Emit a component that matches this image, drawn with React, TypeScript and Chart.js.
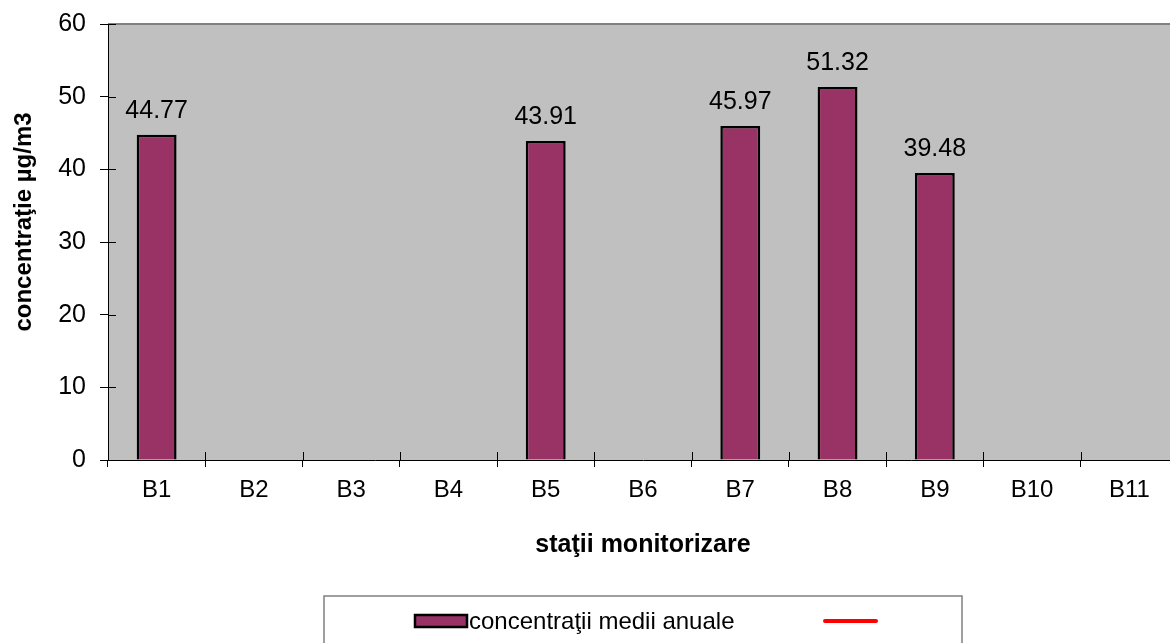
import React, { useEffect, useRef } from 'react';
import { Chart, registerables } from 'chart.js';

Chart.register(...registerables);

const categories = ['B1', 'B2', 'B3', 'B4', 'B5', 'B6', 'B7', 'B8', 'B9', 'B10', 'B11'];
const annualMeans: (number | null)[] = [44.77, null, null, null, 43.91, null, 45.97, 51.32, 39.48, null, null];
const limitValues: (number | null)[] = [null, null, null, null, null, null, null, null, null, null, null];
const seriesLabels = ['concentraţii medii anuale', ''];
const yTitle = 'concentraţie µg/m3';
const xTitle = 'staţii monitorizare';
const yMin = 0;
const yMax = 60;
const yStep = 10;

const FONT = "'Liberation Sans', Arial, sans-serif";
const BAR_COLOR = '#993366';
const LINE_COLOR = '#FF0000';

const plotBg = {
  id: 'plotBg',
  beforeDraw(chart: any) {
    const { ctx, chartArea } = chart;
    ctx.save();
    ctx.fillStyle = '#C0C0C0';
    ctx.fillRect(chartArea.left, chartArea.top, chartArea.right - chartArea.left, chartArea.bottom - chartArea.top);
    ctx.strokeStyle = '#808080';
    ctx.lineWidth = 2;
    ctx.beginPath();
    ctx.moveTo(chartArea.left, chartArea.top);
    ctx.lineTo(chartArea.right, chartArea.top);
    ctx.stroke();
    ctx.restore();
  },
};

const innerTicks = {
  id: 'innerTicks',
  afterDraw(chart: any) {
    const { ctx } = chart;
    const xs = chart.scales.x;
    const ys = chart.scales.y;
    ctx.save();
    ctx.strokeStyle = '#000';
    ctx.lineWidth = 1;
    const n = xs.ticks.length;
    const w = (xs.right - xs.left) / n;
    for (let i = 0; i <= n; i++) {
      const x = Math.round(xs.getPixelForValue(i) - w / 2) + 0.5;
      ctx.beginPath();
      ctx.moveTo(x, xs.top - 8);
      ctx.lineTo(x, xs.top);
      ctx.stroke();
    }
    ys.ticks.forEach((t: any) => {
      const y = Math.round(ys.getPixelForValue(t.value)) + 0.5;
      ctx.beginPath();
      ctx.moveTo(ys.right, y);
      ctx.lineTo(ys.right + 8, y);
      ctx.stroke();
    });
    // y axis title
    ctx.fillStyle = '#000';
    ctx.font = `bold 24px ${FONT}`;
    ctx.textAlign = 'center';
    ctx.textBaseline = 'middle';
    ctx.translate(24, (ys.top + ys.bottom) / 2 - 20);
    ctx.rotate(-Math.PI / 2);
    ctx.fillText(yTitle, 0, 0);
    ctx.restore();
  },
};

const valueLabels = {
  id: 'valueLabels',
  afterDatasetsDraw(chart: any) {
    const { ctx } = chart;
    const meta = chart.getDatasetMeta(0);
    ctx.save();
    ctx.fillStyle = '#000';
    ctx.font = `25px ${FONT}`;
    ctx.textAlign = 'center';
    ctx.textBaseline = 'alphabetic';
    meta.data.forEach((bar: any, i: number) => {
      const v = annualMeans[i];
      if (v === null || v === undefined) return;
      ctx.fillText(v.toFixed(2), bar.x, bar.y - 17);
    });
    ctx.restore();
  },
};

const boxedLegend = {
  id: 'boxedLegend',
  afterDraw(chart: any) {
    const { ctx } = chart;
    const ds = chart.data.datasets;
    ctx.save();
    ctx.strokeStyle = '#808080';
    ctx.lineWidth = 1.5;
    ctx.strokeRect(324, 596, 638, 80);
    // bar item
    ctx.fillStyle = ds[0].backgroundColor;
    ctx.fillRect(415, 615, 52, 12);
    ctx.strokeStyle = '#000';
    ctx.lineWidth = 2.5;
    ctx.strokeRect(415, 615, 52, 12);
    ctx.fillStyle = '#000';
    ctx.font = `24px ${FONT}`;
    ctx.textAlign = 'left';
    ctx.textBaseline = 'alphabetic';
    ctx.fillText(ds[0].label, 469, 629);
    // line item
    ctx.strokeStyle = ds[1].borderColor;
    ctx.lineWidth = 4;
    ctx.lineCap = 'round';
    ctx.beginPath();
    ctx.moveTo(825, 621);
    ctx.lineTo(876, 621);
    ctx.stroke();
    if (ds[1].label) ctx.fillText(ds[1].label, 885, 629);
    ctx.restore();
  },
};

export default function App() {
  const ref = useRef<HTMLCanvasElement | null>(null);
  useEffect(() => {
    if (!ref.current) return;
    const chart = new Chart(ref.current, {
      type: 'bar',
      data: {
        labels: categories,
        datasets: [
          {
            type: 'bar',
            label: seriesLabels[0],
            data: annualMeans,
            backgroundColor: BAR_COLOR,
            borderColor: '#000',
            borderWidth: 2.5,
            categoryPercentage: 1,
            barPercentage: 0.41,
          } as any,
          {
            type: 'line',
            label: seriesLabels[1],
            data: limitValues,
            borderColor: LINE_COLOR,
            backgroundColor: LINE_COLOR,
            borderWidth: 3,
            pointRadius: 0,
          } as any,
        ],
      },
      options: {
        responsive: false,
        animation: false,
        events: [],
        layout: { padding: { top: 24, right: 2, left: 0, bottom: 0 } },
        plugins: {
          legend: { display: false },
          tooltip: { enabled: false },
        },
        scales: {
          x: {
            type: 'category',
            offset: true,
            grid: { offset: true, drawOnChartArea: false, drawTicks: true, tickLength: 7, color: '#000' },
            border: { display: true, color: '#000', width: 1 },
            ticks: { color: '#000', font: { family: FONT, size: 24 }, padding: 9, maxRotation: 0, autoSkip: false },
            title: {
              display: true,
              text: xTitle,
              color: '#000',
              font: { family: FONT, size: 25, weight: 'bold' },
              padding: { top: 0, bottom: 83 },
            },
            afterFit: (s: any) => {
              s.height = 183;
              s.paddingLeft = 0;
              s.paddingRight = 0;
            },
          },
          y: {
            min: yMin,
            max: yMax,
            grid: { drawOnChartArea: false, drawTicks: true, tickLength: 8, color: '#000' },
            border: { display: true, color: '#000', width: 1 },
            ticks: { stepSize: yStep, color: '#000', font: { family: FONT, size: 25 }, padding: 14 },
            title: { display: false, text: yTitle },
            afterFit: (s: any) => {
              s.width = 108;
              s.paddingTop = 0;
              s.paddingBottom = 0;
            },
          },
        },
      },
      plugins: [plotBg, innerTicks, valueLabels, boxedLegend],
    });
    return () => chart.destroy();
  }, []);
  return (
    <div style={{ position: 'absolute', left: 0, top: 0, width: 1170, height: 643, overflow: 'hidden', background: '#fff' }}>
      <canvas ref={ref} width={1180} height={643} style={{ width: 1180, height: 643, display: 'block' }} />
    </div>
  );
}
